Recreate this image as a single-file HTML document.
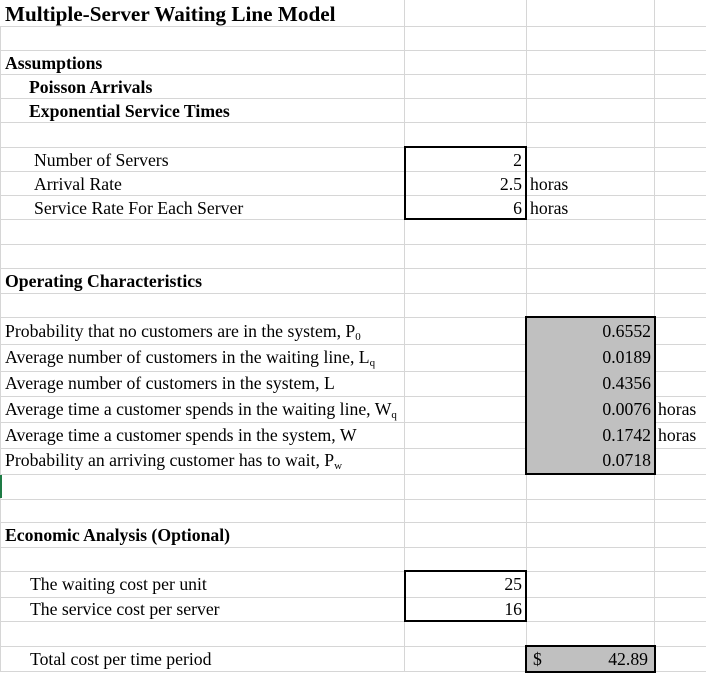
<!DOCTYPE html>
<html><head><meta charset="utf-8"><style>
body{margin:0;width:706px;height:672px;background:#fff;position:relative;overflow:hidden;font-family:"Liberation Serif",serif;color:#000}
.h{position:absolute;left:0;width:706px;height:1px;background:#d6d6d6}
.v{position:absolute;top:0;width:1px;height:672px;background:#d6d6d6}
.t{position:absolute;font-size:17.7px;line-height:24px;white-space:nowrap}
.b{font-weight:bold}
.r{text-align:right}
.box{position:absolute;border:2px solid #000;box-sizing:border-box}
sub{font-size:11px;vertical-align:-3px;line-height:0}
</style></head><body>
<div class="v" style="left:404px"></div>
<div class="v" style="left:526px"></div>
<div class="v" style="left:654px"></div>
<div class="h" style="top:26px"></div><div class="h" style="top:50px"></div><div class="h" style="top:74px"></div><div class="h" style="top:98px"></div><div class="h" style="top:122px"></div><div class="h" style="top:147px"></div><div class="h" style="top:171px"></div><div class="h" style="top:195px"></div><div class="h" style="top:219px"></div><div class="h" style="top:244px"></div><div class="h" style="top:268px"></div><div class="h" style="top:293px"></div><div class="h" style="top:317px"></div><div class="h" style="top:344px"></div><div class="h" style="top:371px"></div><div class="h" style="top:396px"></div><div class="h" style="top:422px"></div><div class="h" style="top:448px"></div><div class="h" style="top:474px"></div><div class="h" style="top:499px"></div><div class="h" style="top:522px"></div><div class="h" style="top:547px"></div><div class="h" style="top:571px"></div><div class="h" style="top:597px"></div><div class="h" style="top:621px"></div><div class="h" style="top:646px"></div><div class="h" style="top:671px"></div>
<div style="position:absolute;left:0;top:26px;width:1px;height:646px;background:#d6d6d6"></div>
<div style="position:absolute;left:0;top:475px;width:2px;height:23px;background:#1e7b45"></div>

<div class="box" style="left:404px;top:146px;width:123px;height:74px"></div>
<div style="position:absolute;left:526px;top:317px;width:129px;height:157px;background:#c0c0c0"></div>
<div class="box" style="left:525px;top:316px;width:131px;height:159px"></div>
<div class="box" style="left:404px;top:570px;width:123px;height:52px"></div>
<div style="position:absolute;left:526px;top:646px;width:129px;height:26px;background:#c0c0c0"></div>
<div class="box" style="left:525px;top:645px;width:131px;height:28px"></div>

<div class="t b" style="left:5px;top:1px;font-size:21.2px;line-height:26px">Multiple-Server Waiting Line Model</div>
<div class="t b" style="left:5px;top:51px">Assumptions</div>
<div class="t b" style="left:29px;top:75px">Poisson Arrivals</div>
<div class="t b" style="left:29px;top:99px">Exponential Service Times</div>
<div class="t" style="left:34px;top:148px">Number of Servers</div>
<div class="t" style="left:34px;top:172px">Arrival Rate</div>
<div class="t" style="left:34px;top:196px">Service Rate For Each Server</div>
<div class="t r" style="left:404px;width:118px;top:148px">2</div>
<div class="t r" style="left:404px;width:118px;top:172px">2.5</div>
<div class="t r" style="left:404px;width:118px;top:196px">6</div>
<div class="t" style="left:530px;top:172px">horas</div>
<div class="t" style="left:530px;top:196px">horas</div>

<div class="t b" style="left:5px;top:269px">Operating Characteristics</div>
<div class="t" style="left:5px;top:319px">Probability that no customers are in the system, P<sub>0</sub></div>
<div class="t" style="left:5px;top:345px">Average number of customers in the waiting line, L<sub>q</sub></div>
<div class="t" style="left:5px;top:371px">Average number of customers in the system, L</div>
<div class="t" style="left:5px;top:397px">Average time a customer spends in the waiting line, W<sub>q</sub></div>
<div class="t" style="left:5px;top:423px">Average time a customer spends in the system, W</div>
<div class="t" style="left:5px;top:448px">Probability an arriving customer has to wait, P<sub>w</sub></div>
<div class="t r" style="left:526px;width:125px;top:319px">0.6552</div>
<div class="t r" style="left:526px;width:125px;top:345px">0.0189</div>
<div class="t r" style="left:526px;width:125px;top:371px">0.4356</div>
<div class="t r" style="left:526px;width:125px;top:397px">0.0076</div>
<div class="t r" style="left:526px;width:125px;top:423px">0.1742</div>
<div class="t r" style="left:526px;width:125px;top:448px">0.0718</div>
<div class="t" style="left:658px;top:397px">horas</div>
<div class="t" style="left:658px;top:423px">horas</div>

<div class="t b" style="left:5px;top:523px">Economic Analysis (Optional)</div>
<div class="t" style="left:30px;top:572px">The waiting cost per unit</div>
<div class="t" style="left:30px;top:597px">The service cost per server</div>
<div class="t r" style="left:404px;width:118px;top:572px">25</div>
<div class="t r" style="left:404px;width:118px;top:597px">16</div>
<div class="t" style="left:30px;top:647px">Total cost per time period</div>
<div class="t" style="left:533px;top:647px">$</div>
<div class="t r" style="left:526px;width:122px;top:647px">42.89</div>
</body></html>
